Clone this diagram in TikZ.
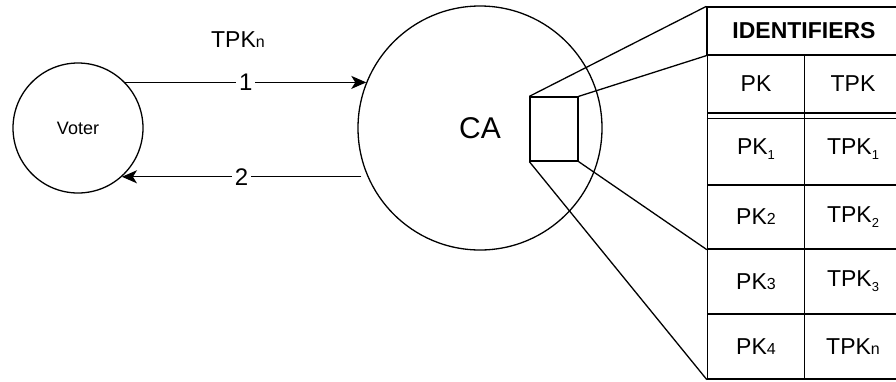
\documentclass[tikz,border=0pt]{standalone}
\usepackage{fontspec}
\setmainfont{Liberation Sans}
\usetikzlibrary{arrows.meta}

\newcommand{\lowsub}[1]{\raisebox{-5pt}{\fontsize{13}{13}\selectfont #1}}
\newcommand{\flatsub}[1]{{\fontsize{16}{16}\selectfont #1}}

\tikzset{
  every path/.style={line width=1.3pt},
  roundnode/.style={draw, circle, inner sep=0pt},
  cell/.style={draw, rectangle, inner sep=0pt, minimum width=97pt,
    font=\fontsize{23}{27}\selectfont},
  steplabel/.style={fill=white, inner sep=3pt, font=\fontsize{24}{28}\selectfont},
  tip/.style={-{Stealth[length=15pt, width=13pt, inset=4pt]}}
}

\begin{document}
\begin{tikzpicture}[x=1pt, y=-1pt]
\useasboundingbox (0,0) rectangle (896,381);

% actors
\node[roundnode, minimum size=130pt, font=\fontsize{18}{22}\selectfont] (voter) at (78,128) {Voter};
\node[roundnode, minimum size=244pt, font=\fontsize{30}{34}\selectfont] (ca) at (480,128) {CA};
\node[draw, rectangle, minimum width=48pt, minimum height=64pt] (zoom) at (554,129) {};

% messages
\node[font=\fontsize{23}{27}\selectfont] (tpkn) at (238,40) {TPK\flatsub{n}};
\path (voter.44) coordinate (sendstart);
\path (voter.-48) coordinate (backend);
\draw[tip] (sendstart) -- node[steplabel] (one) {1} (sendstart -| ca.158);
\draw[tip] (backend -| ca.west) ++(4,0) coordinate (backstart)
  (backstart) -- node[steplabel] (two) {2} (backend);

% identifier table
\node[cell, minimum width=194pt, minimum height=48pt, font=\fontsize{23}{27}\selectfont\bfseries] (head) at (804,31) {IDENTIFIERS};
\node[cell, minimum height=58pt] (pk) at (756,84) {PK};
\node[cell, minimum height=58pt] (tpk) at (853,84) {TPK};
\node[cell, minimum height=72pt] (pkone) at (756,149) {PK\lowsub{1}};
\node[cell, minimum height=72pt] (tpkone) at (853,149) {TPK\lowsub{1}};
\node[cell, minimum height=64pt] (pktwo) at (756,217) {PK\flatsub{2}};
\node[cell, minimum height=64pt] (tpktwo) at (853,217) {TPK\lowsub{2}};
\node[cell, minimum height=65pt] (pkthree) at (756,281.5) {PK\flatsub{3}};
\node[cell, minimum height=65pt] (tpkthree) at (853,281.5) {TPK\lowsub{3}};
\node[cell, minimum height=65pt] (pkfour) at (756,346.5) {PK\flatsub{4}};
\node[cell, minimum height=65pt] (tpkfour) at (853,346.5) {TPK\flatsub{n}};
\draw ([yshift=-6pt]pkone.north west) -- ([yshift=-6pt]tpkone.north east);

% zoom lines
\draw (zoom.north west) -- (head.north west);
\draw (zoom.north east) -- (head.south west);
\draw (zoom.south east) -- (pktwo.south west);
\draw (zoom.south west) -- (pkfour.south west);
\end{tikzpicture}
\end{document}
